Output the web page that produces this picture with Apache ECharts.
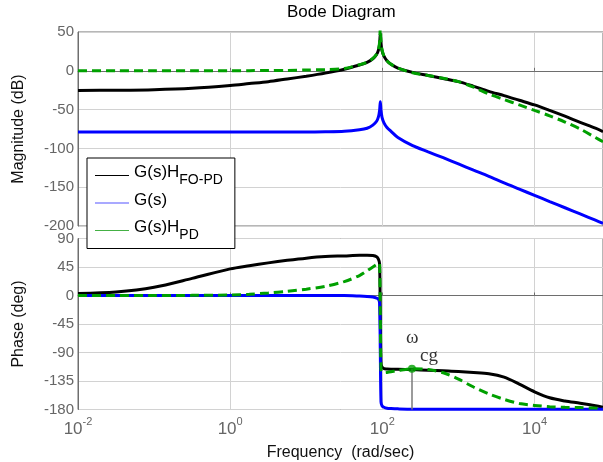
<!DOCTYPE html>
<html>
<head>
<meta charset="utf-8">
<script src="https://cdn.jsdelivr.net/npm/echarts@6/dist/echarts.min.js"></script>
<style>html,body{margin:0;padding:0;background:#fff;}#c{width:603px;height:462px;}</style>
</head>
<body>
<div id="c"></div>
<script>
// Frequencies (rad/sec)
const freq = [0.01, 0.0316, 0.1, 0.316, 1, 1.78, 3.16, 5.62, 10, 17.8, 31.6, 50, 63, 75, 84, 89, 92, 94, 96, 99, 105, 115, 130, 160, 250, 400, 630, 1000, 1580, 2510, 3980, 6310, 10000, 15800, 25100, 39800, 63100, 79400];
// Magnitude (dB)
const magFOPD = [-25.3, -25, -24.3, -22.5, -19, -16.5, -14, -10.5, -7, -3, 2, 7.5, 11, 15.5, 21, 27, 35, 48, 35, 26, 19, 13, 8.5, 3.5, -2, -6, -10, -14, -20, -26.5, -32, -38, -44, -51, -58.5, -66.5, -74, -78.5];
const magG = [-79, -79, -79, -79, -79, -79, -79, -79, -79, -78.7, -78, -76, -74, -70, -65, -59, -51, -40, -51, -60, -67, -73, -78, -86, -96.5, -104.5, -112, -120, -128, -136, -144.5, -152.5, -160.5, -168.5, -176.5, -184.5, -192.5, -196.5];
const magPD = [0, 0, 0, 0, 0.1, 0.2, 0.3, 0.5, 1, 1.5, 3, 7.8, 11, 16, 21.5, 28, 37, 56, 37, 27, 19, 13, 8.5, 3.5, -2.5, -6, -9.5, -14, -21, -30, -37, -44, -51, -58, -66, -75, -86, -91.5];
// Phase (deg)
const phFOPD = [3, 5.5, 13, 27, 42, 47, 51.5, 55.5, 59, 61.5, 62.5, 63.5, 63.5, 63, 61, 57, 50, -30, -108, -113, -115.5, -116, -116.3, -116.5, -117, -118, -119, -120, -121.5, -123.5, -129, -140, -152, -161.5, -166.5, -170, -174, -176.5];
const phG = [0, 0, 0, 0, 0, 0, 0, 0, 0, 0, 0, -0.8, -1.5, -2.5, -4, -6, -12, -90, -168, -174, -176.5, -178, -178.5, -179, -179.5, -179.5, -179.5, -179.5, -179.5, -179.5, -179.5, -179.5, -179.5, -179.5, -179.5, -179.5, -179.5, -179.5];
const phPD = [0, 0, 0, 0.2, 0.8, 2, 4, 6.5, 10, 14.5, 22, 31.5, 39, 45, 49, 51, 50, -30, -117, -121, -122, -121.5, -120.5, -118.5, -115.5, -117, -122, -132, -144.5, -155.5, -164, -170.5, -173.5, -175.5, -176.5, -177, -177.8, -178];
// Gain crossover marker
const wcg = 245, phcg = -115.5;
// Ticks
const magTicks = {min: -200, max: 50, interval: 50};
const phTicks = {min: -180, max: 90, interval: 45};
const freqRange = {min: 0.01, max: 79400};
const seriesNames = ['G(s)H_FO-PD', 'G(s)', 'G(s)H_PD'];

const colors = ['#000000', '#0000ff', '#00a000'];
const legendColors = ['#000000', '#5555ff', '#44b044'];
const lineTypes = ['solid', 'solid', [9, 5]];
const magData = [magFOPD, magG, magPD];
const phData = [phFOPD, phG, phPD];

const FONT = 'Liberation Sans';
const chart = echarts.init(document.getElementById('c'), null, {renderer: 'canvas'});

function xAxisCfg(gi, showLabel) {
  return {
    gridIndex: gi, type: 'log', logBase: 10, min: freqRange.min, max: freqRange.max, interval: 2,
    offset: 2,
    axisLine: {show: true, lineStyle: {color: '#6e6e6e', width: 1}},
    axisTick: {show: true, inside: true, length: 3, lineStyle: {color: '#6e6e6e'}},
    splitLine: {show: true, lineStyle: {color: '#d2d2d2', width: 1}},
    axisLabel: {
      show: showLabel, margin: 5, showMaxLabel: false,
      formatter: function (v) {
        const e = Math.log10(v);
        if (Math.abs(e - Math.round(e)) > 0.01) return '';
        return '{b|10}{s|' + Math.round(e) + '}';
      },
      rich: {
        b: {fontFamily: FONT, fontSize: 17, color: '#666'},
        s: {fontFamily: FONT, fontSize: 11, color: '#666', padding: [0, 0, 14, 0]}
      }
    },
    name: showLabel ? 'Frequency  (rad/sec)' : '',
    nameLocation: 'middle', nameGap: 33,
    nameTextStyle: {fontFamily: FONT, fontSize: 16, color: '#111'}
  };
}
function yAxisCfg(gi, t, name) {
  return {
    gridIndex: gi, type: 'value', min: t.min, max: t.max, interval: t.interval,
    axisLine: {show: true, lineStyle: {color: '#6e6e6e', width: 1}},
    axisTick: {show: false},
    splitLine: {show: true, lineStyle: {color: '#d2d2d2', width: 1}},
    axisLabel: {fontFamily: FONT, fontSize: 15, color: '#666', margin: 4},
    name: name, nameLocation: 'middle', nameGap: 51,
    nameTextStyle: {fontFamily: FONT, fontSize: 16, color: '#111'}
  };
}

const series = [];
seriesNames.forEach(function (nm, k) {
  series.push({
    name: nm, type: 'line', xAxisIndex: 0, yAxisIndex: 0,
    data: freq.map(function (f, i) { return [f, magData[k][i]]; }),
    showSymbol: false, symbol: 'none', smooth: 0.3,
    color: colors[k],
    lineStyle: {color: colors[k], width: 3, type: lineTypes[k]},
    z: 2 + k
  });
});
seriesNames.forEach(function (nm, k) {
  series.push({
    name: nm, type: 'line', xAxisIndex: 1, yAxisIndex: 1,
    data: freq.map(function (f, i) { return [f, phData[k][i]]; }),
    showSymbol: false, symbol: 'none', smooth: 0.3,
    color: colors[k],
    lineStyle: {color: colors[k], width: 3, type: lineTypes[k]},
    z: 2 + k
  });
});
series.push({
  name: 'wcg', type: 'scatter', xAxisIndex: 1, yAxisIndex: 1,
  symbol: 'circle', symbolSize: 8, z: 10,
  itemStyle: {color: '#00a000'},
  data: [[wcg, phcg]],
  label: {
    show: true, position: [-2, -36], align: 'left', verticalAlign: 'top',
    formatter: '{w|ω}\n{c|cg}',
    rich: {
      w: {fontFamily: 'Liberation Serif', fontSize: 19, lineHeight: 18, color: '#000'},
      c: {fontFamily: 'Liberation Serif', fontSize: 19, lineHeight: 18, color: '#000', padding: [0, 0, 0, 14]}
    }
  },
  markLine: {
    silent: true, symbol: 'none', animation: false, z: 9,
    label: {show: false},
    lineStyle: {color: '#7a7a7a', width: 1.5, type: 'solid'},
    data: [[{coord: [wcg, phcg]}, {coord: [wcg, phTicks.min]}]]
  }
});

chart.setOption({
  animation: false,
  backgroundColor: '#fff',
  title: {
    text: 'Bode Diagram', left: 287, top: 4, padding: 0,
    textStyle: {fontFamily: FONT, fontSize: 17, fontWeight: 'normal', color: '#000'}
  },
  legend: {
    data: seriesNames.map(function (nm, k) {
      return {name: nm, icon: 'rect', itemStyle: {color: legendColors[k], borderWidth: 0}};
    }),
    orient: 'vertical', left: 87, top: 158,
    padding: [6, 12, 6, 8], itemGap: 4, itemWidth: 34, itemHeight: 1,
    backgroundColor: '#fff', borderColor: '#000', borderWidth: 1, borderRadius: 0,
    z: 20,
    formatter: function (name) {
      const parts = name.split('_');
      return '{m|' + parts[0] + '}{s|' + (parts[1] || ' ') + '}';
    },
    textStyle: {
      fontFamily: FONT, fontSize: 17, color: '#000',
      rich: {
        m: {fontFamily: FONT, fontSize: 17, color: '#000', padding: [0, 0, 6, 0]},
        s: {fontFamily: FONT, fontSize: 14, color: '#000', padding: [10, 0, 0, 0]}
      }
    }
  },
  grid: [
    {left: 78, right: 0, top: 32, height: 194, show: true, borderColor: '#6e6e6e', borderWidth: 1, backgroundColor: 'transparent'},
    {left: 78, right: 0, top: 238.5, height: 171, show: true, borderColor: '#6e6e6e', borderWidth: 1, backgroundColor: 'transparent'}
  ],
  xAxis: [xAxisCfg(0, false), xAxisCfg(1, true)],
  yAxis: [yAxisCfg(0, magTicks, 'Magnitude (dB)'), yAxisCfg(1, phTicks, 'Phase (deg)')],
  series: series
});
</script>
</body>
</html>
